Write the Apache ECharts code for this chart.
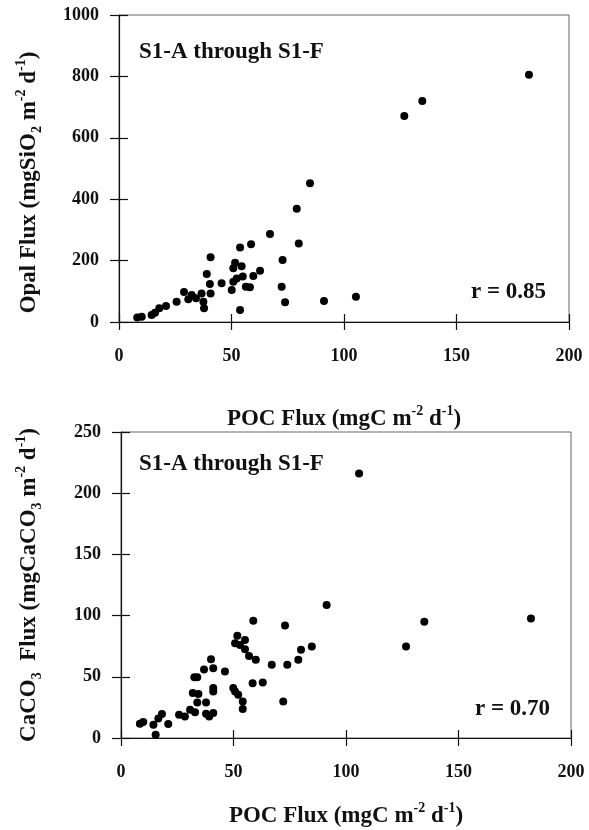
<!DOCTYPE html>
<html lang="en">
<head>
    <meta charset="UTF-8">
    <title>Opal and CaCO3 flux vs POC flux</title>
    <script src="https://cdn.jsdelivr.net/npm/echarts@6/dist/echarts.min.js"></script>
    <style>
        html, body { margin: 0; padding: 0; background: #fff; }
        #chart { width: 589px; height: 830px; }
    </style>
</head>
<body>
    <div id="chart"></div>
    <script>
        // top panel: POC flux vs opal flux
        var poc1 = [8.1, 10.1, 14.5, 16, 17.9, 20.9, 25.6, 28.9, 30.8, 32.3, 34.2, 36.7, 37.5, 37.8, 39, 40.4, 40.7, 40.7,
            45.6, 50.1, 50.8, 51.6, 50.8, 52.3, 53.8, 54.5, 55, 53.8, 56.4, 58.2, 58.7, 59.7, 62.7, 67.1, 72.3, 72.7,
            73.8, 79, 79.9, 84.9, 91.1, 105.3, 126.8, 134.8, 182.2];
        var opal = [15, 17, 23, 30, 45, 52, 66, 98, 74, 88, 77, 93, 66, 45, 156, 124, 93, 211,
            126, 104, 175, 193, 131, 142, 243, 182, 148, 39, 115, 113, 253, 150, 167, 287, 115, 202,
            64, 369, 256, 452, 68, 82, 671, 720, 805];

        // bottom panel: POC flux vs CaCO3 flux
        var poc2 = [8.4, 9.9, 14.4, 15.4, 16.6, 18.2, 21, 25.8, 28.4, 30.7, 32.9, 31.9, 34.4, 32.6, 33.9, 33.9, 37.8,
            36.9, 40, 41, 41, 41, 37.8, 39.2, 41, 46.2, 49.9, 50.7, 52.1, 54.1, 54.1, 50.7, 51.7, 52.9, 55.1, 55.1,
            56.9, 59.9, 58.8, 58.5, 63, 67, 72.1, 72.9, 73.9, 78.8, 80, 84.8, 91.4, 105.8, 126.7, 134.8, 182.2];
        var caco3 = [11.7, 13, 10.8, 2.7, 16, 19.6, 11.4, 19, 17.6, 23, 21, 36.7, 36, 49.7, 49.7, 29, 29,
            56, 64.4, 57, 40.8, 38, 19.8, 17.6, 20.4, 54.3, 40.8, 38, 35.3, 29.9, 23.7, 77.5, 83.5, 76, 80, 72.6,
            67, 63.9, 95.7, 44.8, 45.4, 59.8, 29.9, 91.9, 59.8, 63.9, 72, 74.7, 108.7, 216, 74.7, 94.9, 97.6];

        function pairs(xs, ys) {
            var out = [];
            for (var i = 0; i < xs.length; i++) {
                out.push([xs[i], ys[i]]);
            }
            return out;
        }

        var serif = '"Liberation Serif", "Times New Roman", serif';
        var richName = {
            t: { fontFamily: serif, fontWeight: 'bold', fontSize: 23, color: '#111', lineHeight: 30, verticalAlign: 'middle' },
            sup: { fontFamily: serif, fontWeight: 'bold', fontSize: 14, color: '#111', lineHeight: 30, verticalAlign: 'top' },
            sub: { fontFamily: serif, fontWeight: 'bold', fontSize: 14, color: '#111', lineHeight: 30, verticalAlign: 'bottom' }
        };
        var tickLabel = {
            fontFamily: serif, fontWeight: 'bold', fontSize: 18, color: '#111',
            formatter: function (v) { return String(v); }
        };
        var lineStyle = { color: '#111', width: 1.2 };
        var noteStyle = { fontFamily: serif, fontWeight: 'bold', fontSize: 23, color: '#111' };

        // main axis: labels + outside ticks; twin axis: inside ticks only
        function xAx(grid, name, gap) {
            return [{
                type: 'value', gridIndex: grid, min: 0, max: 200, interval: 50,
                name: name, nameLocation: 'middle', nameGap: gap,
                nameTextStyle: { rich: richName },
                axisLine: { lineStyle: lineStyle },
                axisTick: { length: 8, lineStyle: lineStyle },
                axisLabel: Object.assign({ margin: 25 }, tickLabel),
                splitLine: { show: false }
            }, {
                type: 'value', gridIndex: grid, min: 0, max: 200, interval: 50, position: 'bottom',
                axisLine: { show: false },
                axisTick: { inside: true, length: 8, lineStyle: lineStyle },
                axisLabel: { show: false },
                splitLine: { show: false }
            }];
        }
        function yAx(grid, max, step, name, gap, pad) {
            return [{
                type: 'value', gridIndex: grid, min: 0, max: max, interval: step,
                name: name, nameLocation: 'middle', nameGap: gap, nameRotate: 90,
                nameTextStyle: { rich: richName, padding: pad },
                axisLine: { lineStyle: lineStyle },
                axisTick: { length: 9, lineStyle: lineStyle },
                axisLabel: Object.assign({ margin: 20 }, tickLabel),
                splitLine: { show: false }
            }, {
                type: 'value', gridIndex: grid, min: 0, max: max, interval: step, position: 'left',
                axisLine: { show: false },
                axisTick: { inside: true, length: 9, lineStyle: lineStyle },
                axisLabel: { show: false },
                splitLine: { show: false }
            }];
        }

        var xName = '{t|POC Flux (mgC m}{sup|-2}{t| d}{sup|-1}{t|)}';

        var myChart = echarts.init(document.getElementById('chart'));
        var option = {
            backgroundColor: '#fff',
            animation: false,
            title: [
                { text: 'S1-A through S1-F', left: 134, top: 36, textStyle: noteStyle },
                { text: 'r = 0.85', left: 466, top: 276, textStyle: noteStyle },
                { text: 'S1-A through S1-F', left: 134, top: 448, textStyle: noteStyle },
                { text: 'r = 0.70', left: 470, top: 693, textStyle: noteStyle }
            ],
            grid: [
                { left: 119, top: 15, width: 450, height: 307, show: true, borderColor: '#666', borderWidth: 1 },
                { left: 121, top: 432, width: 450, height: 306, show: true, borderColor: '#666', borderWidth: 1 }
            ],
            xAxis: xAx(0, xName, 82).concat(xAx(1, xName, 63)),
            yAxis: yAx(0, 1000, 200, '{t|Opal Flux (mgSiO}{sub|2}{t| m}{sup|-2}{t| d}{sup|-1}{t|)}', 75, [0, 28, 0, 0])
                .concat(yAx(1, 250, 50, '{t|CaCO}{sub|3}{t|  Flux (mgCaCO}{sub|3}{t| m}{sup|-2}{t| d}{sup|-1}{t|)}', 77, 0)),
            series: [
                {
                    name: 'Opal', type: 'scatter', xAxisIndex: 0, yAxisIndex: 0,
                    symbolSize: 8, itemStyle: { color: '#000', opacity: 1 },
                    data: pairs(poc1, opal)
                },
                {
                    name: 'CaCO3', type: 'scatter', xAxisIndex: 2, yAxisIndex: 2,
                    symbolSize: 8, itemStyle: { color: '#000', opacity: 1 },
                    data: pairs(poc2, caco3)
                }
            ]
        };
        myChart.setOption(option);
    </script>
</body>
</html>
